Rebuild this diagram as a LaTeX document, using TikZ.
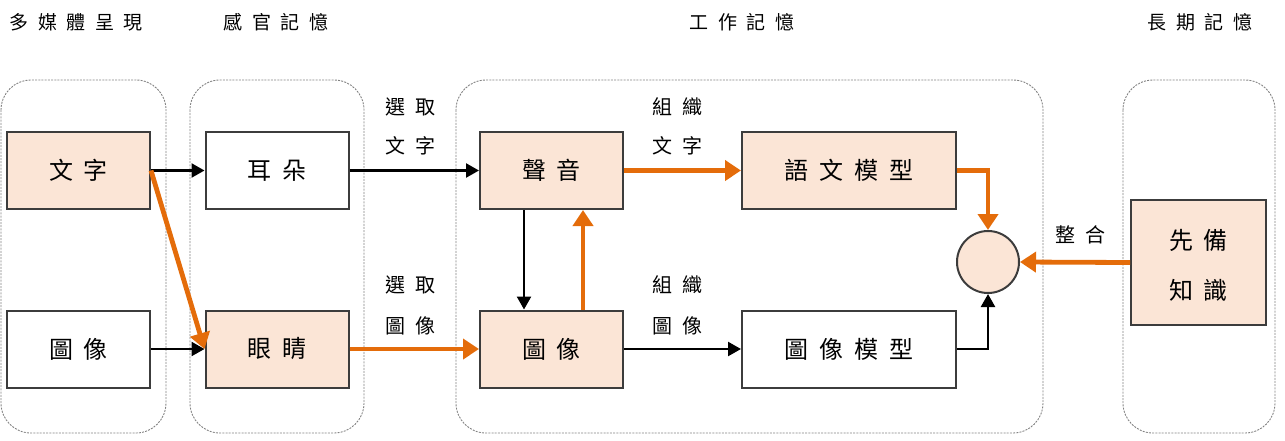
\documentclass[tikz,border=0pt]{standalone}
\usepackage{fontspec}
\setmainfont{Noto Sans CJK TC}
\usetikzlibrary{arrows.meta}
\definecolor{peach}{RGB}{251,229,214}
\definecolor{orng}{RGB}{228,108,10}
\definecolor{bordr}{RGB}{60,60,60}
\definecolor{dgray}{RGB}{130,130,130}
\newcommand\gp{\hspace{0.45em}}
\newcommand\lgap{\hspace{0.5em}}
\begin{document}
\begin{tikzpicture}[x=1pt,y=-1pt,
  group/.style={draw=dgray,line width=0.9pt,dash pattern=on 2pt off 1.2pt,rounded corners=30pt},
  box/.style={draw=bordr,line width=2pt,minimum width=143pt,minimum height=77pt,inner sep=0pt,font=\fontsize{24}{26}\selectfont},
  wbox/.style={box,fill=white},
  pbox/.style={box,fill=peach},
  title/.style={font=\fontsize{19}{21}\selectfont,inner sep=0pt},
  lab/.style={font=\fontsize{20}{22}\selectfont,inner sep=0pt},
  barr/.style={draw=black,line width=2.4pt,-{Triangle[length=13pt,width=14pt]}},
  oarr/.style={draw=orng,line width=4.8pt,-{Triangle[length=16pt,width=20pt]}},
]
\useasboundingbox (0,0) rectangle (1285,440);
% groups
\draw[group] (1,80) rectangle (166,433);
\draw[group] (190,80) rectangle (364,433);
\draw[group] (456,80) rectangle (1043,433);
\draw[group] (1123,80) rectangle (1275,433);
% titles
\node[title] (t1) at (76,22) {多\lgap 媒\lgap 體\lgap 呈\lgap 現};
\node[title] (t2) at (276,22) {感\lgap 官\lgap 記\lgap 憶};
\node[title] (t3) at (742,22) {工\lgap 作\lgap 記\lgap 憶};
\node[title] (t4) at (1200,22) {長\lgap 期\lgap 記\lgap 憶};
% boxes
\node[pbox] (wz) at (78.5,170.5) {文\gp 字};
\node[wbox] (tx1) at (78.5,349) {圖\gp 像};
\node[wbox] (ed) at (277,170.5) {耳\gp 朵};
\node[pbox] (yj) at (277,349) {眼\gp 睛};
\node[pbox] (sy) at (551.5,170.5) {聲\gp 音};
\node[pbox] (tx2) at (551.5,349) {圖\gp 像};
\node[pbox,minimum width=214pt] (yw) at (849,170.5) {語\gp 文\gp 模\gp 型};
\node[wbox,minimum width=214pt] (txm) at (849,349) {圖\gp 像\gp 模\gp 型};
\node[draw=bordr,line width=2pt,fill=peach,circle,minimum size=62pt,inner sep=0pt] (c) at (988,262) {};
\node[pbox,minimum width=135pt,minimum height=125pt] (xb) at (1198.5,262.5) {};
\node[font=\fontsize{24}{26}\selectfont,inner sep=0pt] (xb1) at (1198.5,240) {先\gp 備};
\node[font=\fontsize{24}{26}\selectfont,inner sep=0pt] (xb2) at (1198.5,290) {知\gp 識};
% labels
\node[lab] (l1a) at (410,107) {選\lgap 取};
\node[lab] (l1b) at (410,146) {文\lgap 字};
\node[lab] (l2a) at (410,285) {選\lgap 取};
\node[lab] (l2b) at (410,326) {圖\lgap 像};
\node[lab] (l3a) at (677,107) {組\lgap 織};
\node[lab] (l3b) at (677,146) {文\lgap 字};
\node[lab] (l4a) at (677,285) {組\lgap 織};
\node[lab] (l4b) at (677,326) {圖\lgap 像};
\node[lab] (l5) at (1080,235) {整\lgap 合};
% arrows
\draw[barr] (wz.east) -- (ed.west);
\draw[barr] (tx1.east) -- (yj.west);
\draw[oarr] (wz.east) -- (yj.west);
\draw[barr] (ed.east) -- (sy.west);
\draw[oarr] (yj.east) -- (tx2.west);
\draw[barr] (sy.south -| 524,0) -- (tx2.north -| 524,0);
\draw[oarr] (tx2.north -| 583,0) -- (sy.south -| 583,0);
\draw[oarr] (sy.east) -- (yw.west);
\draw[barr] (tx2.east) -- (txm.west);
\draw[oarr] (yw.east) -| (c.north);
\draw[barr] (txm.east) -| (c.south);
\draw[oarr] (xb.west) -- (c.east);
\end{tikzpicture}
\end{document}
